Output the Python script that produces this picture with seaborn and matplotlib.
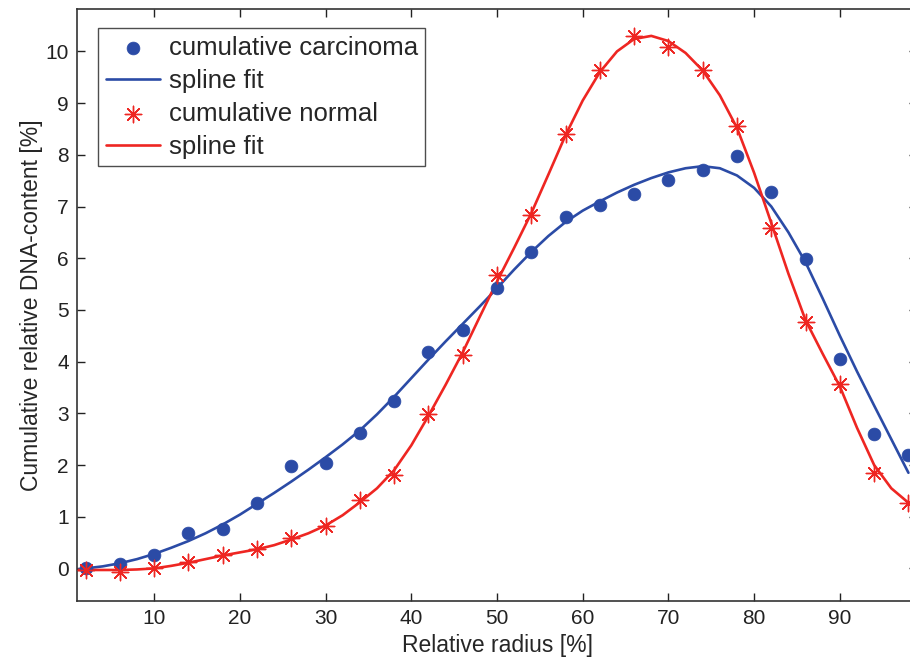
import matplotlib
matplotlib.use("Agg")
import matplotlib.pyplot as plt
import seaborn as sns
import pandas as pd

# measured points (every 4 % of radius)
radius = [2, 6, 10, 14, 18, 22, 26, 30, 34, 38, 42, 46, 50,
          54, 58, 62, 66, 70, 74, 78, 82, 86, 90, 94, 98]
carcinoma = [0.0, 0.08, 0.26, 0.68, 0.76, 1.27, 1.99, 2.03, 2.61, 3.23, 4.18, 4.61, 5.42,
             6.12, 6.79, 7.02, 7.24, 7.51, 7.71, 7.97, 7.29, 5.98, 4.05, 2.60, 2.20]
normal = [-0.03, -0.06, 0.0, 0.12, 0.26, 0.37, 0.58, 0.83, 1.32, 1.81, 2.98, 4.13, 5.68,
          6.84, 8.40, 9.64, 10.29, 10.09, 9.64, 8.55, 6.58, 4.76, 3.56, 1.85, 1.27]

# spline fits
fit_x = [1, 2, 4, 6, 8, 10, 12, 14, 16, 18, 20, 22, 24, 26, 28, 30, 32, 34, 36, 38, 40,
         42, 44, 46, 48, 50, 52, 54, 56, 58, 60, 62, 64, 66, 68, 70, 72, 74, 76, 78, 80,
         82, 84, 86, 88, 90, 92, 94, 96, 98]
fit_carcinoma = [-0.02, 0.0, 0.04, 0.1, 0.18, 0.28, 0.4, 0.53, 0.68, 0.85, 1.04, 1.25, 1.46,
                 1.68, 1.91, 2.15, 2.4, 2.67, 2.98, 3.32, 3.68, 4.04, 4.39, 4.73, 5.07, 5.42,
                 5.78, 6.12, 6.43, 6.7, 6.92, 7.1, 7.27, 7.42, 7.55, 7.66, 7.74, 7.78, 7.74,
                 7.6, 7.36, 7.0, 6.5, 5.92, 5.22, 4.5, 3.81, 3.15, 2.5, 1.85]
fit_normal = [-0.03, -0.03, -0.03, -0.03, -0.02, 0.0, 0.05, 0.11, 0.18, 0.25, 0.31, 0.37, 0.45,
              0.56, 0.68, 0.83, 1.03, 1.28, 1.55, 1.9, 2.38, 2.95, 3.55, 4.18, 4.87, 5.55,
              6.2, 6.87, 7.62, 8.38, 9.05, 9.6, 10.0, 10.24, 10.3, 10.2, 9.97, 9.63, 9.15,
              8.52, 7.65, 6.68, 5.7, 4.8, 4.15, 3.52, 2.72, 2.0, 1.55, 1.27]

blue = "#2b4ba6"
red = "#ee2622"

sns.set_style("ticks")
plt.rcParams["font.family"] = ["Liberation Sans", "DejaVu Sans"]

pts = pd.DataFrame({"x": radius, "carc": carcinoma, "norm": normal})
fit = pd.DataFrame({"x": fit_x, "carc": fit_carcinoma, "norm": fit_normal})

fig = plt.figure(figsize=(9.1, 6.57), dpi=100)
ax = fig.add_axes([77 / 910, 1 - 601 / 657, 840 / 910, 592 / 657])

sns.scatterplot(data=pts, x="x", y="carc", ax=ax, color=blue, s=85, marker="o",
                edgecolor=blue, linewidth=0.5, label="cumulative carcinoma", zorder=3)
sns.lineplot(data=fit, x="x", y="carc", ax=ax, color=blue, linewidth=1.9, sort=False,
             estimator=None, label="spline fit")
sns.scatterplot(data=pts, x="x", y="norm", ax=ax, color=red, s=140, marker=(8, 2, 0),
                linewidth=1.0, edgecolor=red, label="cumulative normal", zorder=3)
sns.lineplot(data=fit, x="x", y="norm", ax=ax, color=red, linewidth=1.9, sort=False,
             estimator=None, label="spline fit")

ax.set_xlim(1, 99)
ax.set_ylim(-0.63, 10.82)
ax.set_xticks(range(10, 100, 10))
ax.set_yticks(range(0, 11))
ax.tick_params(direction="in", length=6, width=1, top=True, right=True,
               labelsize=15, colors="#222222", pad=6)
for s in ax.spines.values():
    s.set_color("#333333")
    s.set_linewidth(1.2)

ax.set_xlabel("Relative radius [%]", fontsize=16.5, labelpad=4)
ax.set_ylabel("Cumulative relative DNA-content [%]", fontsize=16.5, labelpad=2)

leg = ax.legend(loc="upper left", bbox_to_anchor=(21 / 840, 1 - 19 / 592), fontsize=18.5,
                frameon=True, fancybox=False, edgecolor="#222222", borderpad=0.3,
                handlelength=2.1, handletextpad=0.35, labelspacing=0.35, borderaxespad=0)
leg.get_frame().set_linewidth(1.0)

fig.savefig("out.png", dpi=100)
